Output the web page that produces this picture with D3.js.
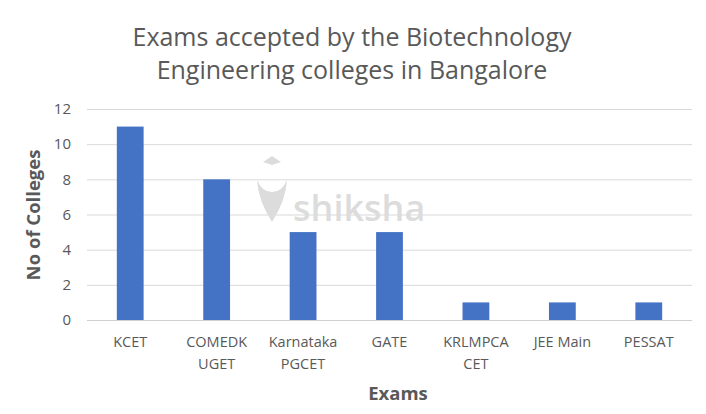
<!DOCTYPE html>
<html><head><meta charset="utf-8">
<script src="https://cdn.jsdelivr.net/npm/d3@7"></script>
<style>body{margin:0;background:#fff}svg{display:block}</style>
</head><body>
<svg id="c" width="706" height="414"></svg>
<script>
const categories = [["KCET"],["COMEDK","UGET"],["Karnataka","PGCET"],["GATE"],["KRLMPCA","CET"],["JEE Main"],["PESSAT"]];
const values = [11, 8, 5, 5, 1, 1, 1];
const yTicks = [0, 2, 4, 6, 8, 10, 12];
const titleLines = ["Exams accepted by the Biotechnology", "Engineering colleges in Bangalore"];

const svg = d3.select("#c");
const W = 706, H = 414;
const m = {left: 87, right: 14, top: 109, bottom: 94};
const font = "'Open Sans', 'Noto Sans', sans-serif";
const grey = "#595959";

svg.append("rect").attr("width", W).attr("height", H).attr("fill", "#fff");

const x = d3.scaleBand().domain(categories.map(d => d.join(" "))).range([m.left, W - m.right]).paddingInner(0.69).paddingOuter(0.345);
const y = d3.scaleLinear().domain([0, 12]).range([H - m.bottom, m.top]);

// gridlines
svg.append("g").selectAll("line").data(yTicks).join("line")
  .attr("x1", m.left).attr("x2", W - m.right)
  .attr("y1", d => y(d) + 0.5).attr("y2", d => y(d) + 0.5)
  .attr("stroke", d => d === 0 ? "#d0d0d0" : "#d9d9d9").attr("stroke-width", 1);

// watermark
svg.append("text").attr("x", 293).attr("y", 221).text("shiksha")
  .attr("font-family", font).attr("font-size", 36).attr("fill", "#dcdcdc").attr("font-weight", 600);
svg.append("path").attr("d", "M263 162 L272 156 L281 162 L272 165 Z").attr("fill", "#dcdcdc");
svg.append("path").attr("d", "M257 180 Q258 200 272 222 Q286 200 287 180 Q282 192 272 192 Q262 192 257 180 Z").attr("fill", "#dcdcdc");

// bars
svg.append("g").selectAll("rect").data(values).join("rect")
  .attr("x", (d, i) => x(categories[i].join(" ")))
  .attr("width", x.bandwidth())
  .attr("y", d => y(d))
  .attr("height", d => y(0) - y(d))
  .attr("fill", "#4472C4");

// y tick labels
const yAxis = d3.axisLeft(y).tickValues(yTicks).tickSize(0).tickPadding(0);
const ya = svg.append("g").attr("transform", `translate(${m.left - 16},0)`).call(yAxis);
ya.select(".domain").remove();
ya.selectAll("text").attr("font-family", font).attr("font-size", 15).attr("fill", grey).attr("text-anchor", "end");

// x tick labels
const xa = svg.append("g");
categories.forEach((lines, i) => {
  const cx = x(lines.join(" ")) + x.bandwidth() / 2;
  const t = xa.append("text").attr("x", cx).attr("y", 347).attr("text-anchor", "middle")
    .attr("font-family", font).attr("font-size", 14.5).attr("fill", grey);
  lines.forEach((l, j) => t.append("tspan").attr("x", cx).attr("dy", j === 0 ? 0 : 22).text(l));
});

// title
svg.append("g").selectAll("text").data(titleLines).join("text")
  .attr("x", 352).attr("y", (d, i) => 46 + i * 33).attr("text-anchor", "middle")
  .attr("font-family", font).attr("font-size", 25).attr("fill", grey).text(d => d);

// axis titles
svg.append("text").attr("transform", "translate(40,215) rotate(-90)").attr("text-anchor", "middle")
  .attr("font-family", font).attr("font-size", 18.5).attr("font-weight", "bold").attr("fill", grey).text("No of Colleges");
svg.append("text").attr("x", 398).attr("y", 400).attr("text-anchor", "middle")
  .attr("font-family", font).attr("font-size", 18.5).attr("font-weight", "bold").attr("fill", grey).text("Exams");
</script>
</body></html>
